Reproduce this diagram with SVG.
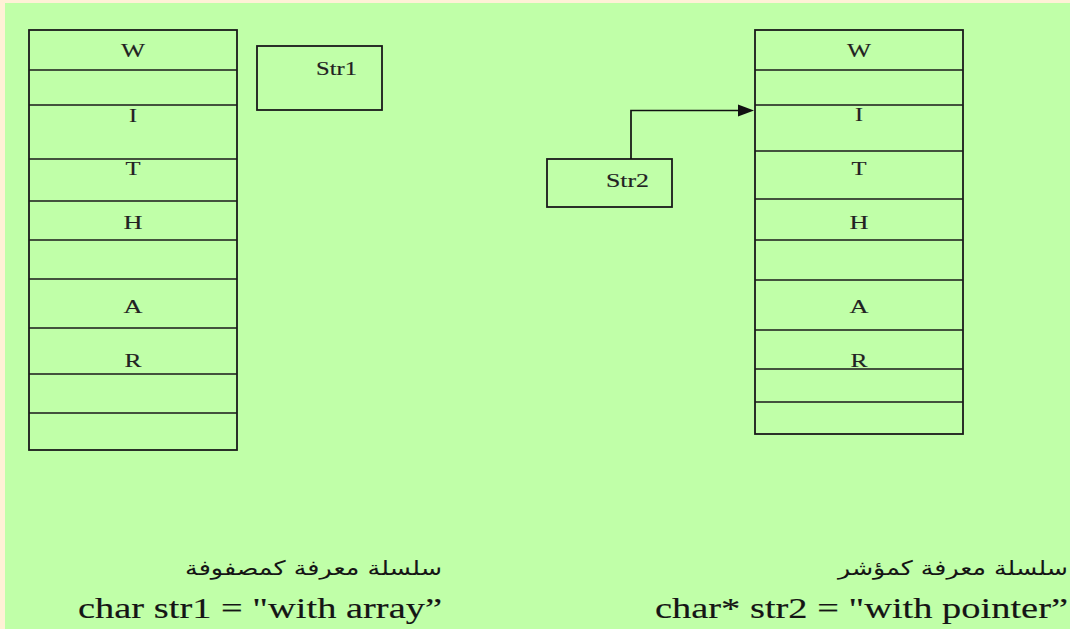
<svg xmlns="http://www.w3.org/2000/svg" width="1070" height="629" viewBox="0 0 1070 629">
<style>
.bx{fill:none;stroke:#1a1a1a;stroke-width:1.8}
.ln{stroke:#1a1a1a;stroke-width:1.5}
.cl{font-family:"Liberation Serif","Times New Roman",serif;font-size:19px;fill:#222;stroke:#222;stroke-width:0.15}
.code{font-family:"Liberation Serif","Times New Roman",serif;font-size:29px;fill:#151515;stroke:#151515;stroke-width:0.15}
.ar{font-family:"DejaVu Sans","Noto Sans",sans-serif;font-size:20px;fill:#151515}
.cn{fill:none;stroke:#111;stroke-width:1.7}
</style>
<rect x="0" y="0" width="1070" height="629" fill="#FFF1D6"/>
<rect x="5" y="3" width="1065" height="626" fill="#C0FFA8"/>

<g id="array1">
<rect class="bx" x="29" y="30" width="208" height="420"/>
<path class="ln" d="M29 70H237M29 105H237M29 159H237M29 201H237M29 240H237M29 279H237M29 328H237M29 374H237M29 413H237"/>
<g class="cl" text-anchor="middle">
<text x="133" y="57" textLength="24" lengthAdjust="spacingAndGlyphs">W</text>
<text x="133" y="122" textLength="8" lengthAdjust="spacingAndGlyphs">I</text>
<text x="133" y="175" textLength="15" lengthAdjust="spacingAndGlyphs">T</text>
<text x="133" y="229" textLength="19" lengthAdjust="spacingAndGlyphs">H</text>
<text x="133" y="313" textLength="19" lengthAdjust="spacingAndGlyphs">A</text>
<text x="133" y="367" textLength="17" lengthAdjust="spacingAndGlyphs">R</text>
</g>
</g>

<g id="str1">
<rect class="bx" x="257" y="46" width="125" height="64"/>
<text class="cl" x="316" y="75" textLength="41" lengthAdjust="spacingAndGlyphs">Str1</text>
</g>

<g id="str2">
<rect class="bx" x="547" y="159" width="125" height="48"/>
<text class="cl" x="606" y="187" textLength="43" lengthAdjust="spacingAndGlyphs">Str2</text>
</g>

<g id="array2">
<rect class="bx" x="755" y="30" width="208" height="404"/>
<path class="ln" d="M755 70H963M755 105H963M755 151H963M755 199H963M755 240H963M755 280H963M755 330H963M755 369H963M755 402H963"/>
<g class="cl" text-anchor="middle">
<text x="859" y="57" textLength="24" lengthAdjust="spacingAndGlyphs">W</text>
<text x="859" y="121" textLength="8" lengthAdjust="spacingAndGlyphs">I</text>
<text x="859" y="175" textLength="15" lengthAdjust="spacingAndGlyphs">T</text>
<text x="859" y="229" textLength="19" lengthAdjust="spacingAndGlyphs">H</text>
<text x="859" y="313" textLength="19" lengthAdjust="spacingAndGlyphs">A</text>
<text x="859" y="367" textLength="17" lengthAdjust="spacingAndGlyphs">R</text>
</g>
</g>

<g id="connectors">
<path class="cn" d="M631 159V110.5H740"/>
<polygon points="738,104.5 754,110.5 738,116.5" fill="#111"/>
</g>

<g id="caption-left">
<text class="ar" x="442" y="575" text-anchor="end" textLength="257" lengthAdjust="spacingAndGlyphs">سلسلة معرفة كمصفوفة</text>
<text class="code" x="78" y="618" textLength="364" lengthAdjust="spacingAndGlyphs">char str1 = "with array”</text>
</g>

<g id="caption-right">
<text class="ar" x="1068" y="575" text-anchor="end" textLength="230" lengthAdjust="spacingAndGlyphs">سلسلة معرفة كمؤشر</text>
<text class="code" x="655" y="618" textLength="413" lengthAdjust="spacingAndGlyphs">char* str2 = "with pointer”</text>
</g>
</svg>
